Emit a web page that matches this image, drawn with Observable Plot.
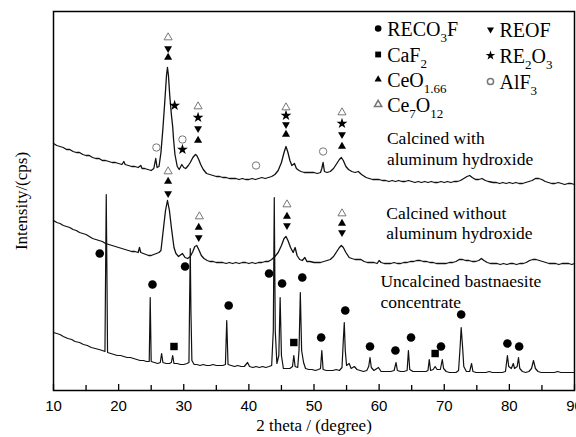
<!DOCTYPE html>
<html><head><meta charset="utf-8">
<script src="https://cdn.jsdelivr.net/npm/d3@7"></script>
<script src="https://cdn.jsdelivr.net/npm/@observablehq/plot@0.6"></script>
<style>body{margin:0;background:#fff} svg{display:block}</style>
</head><body><div id="chart"></div>
<script>
// x: 2 theta (degree), y: intensity (arbitrary, stacked traces)
const calcinedWithAl = [[10,247],[10.5,245],[11,244],[11.5,243],[12,241],[12.5,241],[13,239],[13.5,238],[14,238],[14.5,236],[15,235],[15.5,235],[16,233],[16.5,232],[17,232],[17.5,230],[18,230],[18.5,229],[19,228],[19.5,228],[20,227],[20.5,226],[20.8,229],[21,226],[21.5,225],[22,224],[22.5,224],[23,223],[23.4,225],[23.6,222],[24,222],[24.5,221],[25,220],[25.4,222],[25.7,232],[25.9,223],[26.2,224],[26.5,238],[26.8,262],[27.1,290],[27.35,315],[27.5,323],[27.65,315],[27.85,295],[28.1,276],[28.3,264],[28.45,250],[28.65,236],[29,224],[29.3,221],[29.7,226],[30,223],[30.3,222],[30.7,225],[31,228],[31.4,233],[31.8,236],[32,235],[32.3,231],[32.6,226],[33,221],[33.5,217],[34,216],[34.5,215],[35,214],[35.5,214],[36,213],[36.5,213],[37,212],[37.5,212],[38,212],[38.5,211],[39,212],[39.5,211],[40,211],[40.5,212],[41,211],[41.5,212],[42,213],[42.5,212],[43,213],[43.5,214],[44,216],[44.5,220],[45,228],[45.4,238],[45.7,244],[46,238],[46.3,230],[46.6,225],[47,227],[47.3,222],[47.7,220],[48,219],[48.5,218],[49,218],[49.5,218],[50,218],[50.5,217],[51,218],[51.2,222],[51.4,228],[51.6,219],[52,218],[52.5,219],[53,222],[53.5,227],[53.9,231],[54.2,233],[54.5,230],[54.9,224],[55.3,221],[55.8,219],[56.3,218],[56.8,219],[57.3,216],[58,213],[58.5,212],[59,211],[59.5,211],[60,211],[60.5,210],[61,210],[61.5,209],[62,210],[62.5,209],[63,210],[63.5,209],[64,209],[64.5,210],[65,209],[65.5,208],[66,209],[66.5,208],[67,209],[67.5,208],[68,209],[68.5,208],[69,208],[69.5,209],[70,208],[70.5,209],[71,208],[71.5,209],[72,209],[72.5,210],[73,212],[73.5,214],[73.9,215],[74.3,213],[74.8,211],[75.3,211],[75.8,212],[76.3,210],[76.8,209],[77.5,208],[78,208],[78.5,207],[79,208],[79.5,207],[80,208],[80.5,207],[81,208],[81.5,207],[82,207],[82.5,208],[83,209],[83.5,210],[84,212],[84.5,212],[85,211],[85.5,209],[86,208],[86.5,207],[87,207],[87.5,208],[88,207],[88.5,206],[89,207],[89.5,207],[90,206]];

const calcinedWithoutAl = [[10,170],[10.5,168],[11,167],[11.5,165],[12,164],[12.5,163],[13,161],[13.5,160],[14,158],[14.5,157],[15,156],[15.5,154],[16,152],[16.5,151],[17,150],[17.5,149],[18,147],[18.5,146],[19,145],[19.5,144],[20,143],[20.5,142],[21,141],[21.5,140],[22,139],[22.5,139],[23,138],[23.2,143],[23.4,138],[23.8,137],[24.2,136],[24.6,135],[25,135],[25.4,136],[25.8,137],[26.2,138],[26.5,140],[26.9,163],[27.2,180],[27.5,190],[27.8,180],[28.1,163],[28.5,143],[28.8,137],[29.2,134],[29.8,137],[30.2,133],[30.6,132],[31,134],[31.4,139],[31.7,144],[32,145],[32.3,141],[32.7,135],[33.1,132],[33.6,130],[34,129],[34.5,129],[35,128],[35.5,128],[36,128],[36.5,127],[37,128],[37.5,127],[38,128],[38.5,127],[39,128],[39.5,128],[40,127],[40.5,128],[41,127],[41.5,128],[42,128],[42.5,129],[43,129],[43.5,131],[44,134],[44.5,138],[45,145],[45.4,152],[45.7,154],[46,150],[46.4,143],[46.8,138],[47.1,143],[47.4,135],[47.8,131],[48.2,130],[48.6,133],[48.9,129],[49.4,129],[50,128],[50.5,128],[51,128],[51.5,129],[52,130],[52.5,131],[53,134],[53.5,139],[53.9,143],[54.2,145],[54.5,143],[54.9,138],[55.4,133],[55.8,132],[56.3,131],[56.8,131],[57.2,131],[57.7,129],[58.2,128],[58.7,128],[59.2,128],[59.7,127],[60,130],[60.3,128],[60.8,127],[61.3,127],[61.8,127],[62.3,128],[62.8,127],[63.3,127],[63.8,128],[64.3,128],[64.8,129],[65.3,129],[65.8,130],[66.3,130],[66.8,129],[67.3,129],[67.8,128],[68.3,128],[68.8,127],[69.3,127],[69.8,127],[70.3,127],[70.8,128],[71.3,128],[71.8,129],[72.3,131],[72.8,131],[73.3,130],[73.8,130],[74.3,129],[74.8,129],[75.3,130],[75.7,132],[76.1,130],[76.6,128],[77.1,127],[77.6,127],[78.1,127],[78.6,126],[79.1,127],[79.6,126],[80.1,127],[80.6,127],[81.1,126],[81.6,127],[82.1,127],[82.6,128],[83.1,130],[83.6,131],[84.1,131],[84.6,130],[85.1,129],[85.6,128],[86.1,127],[86.6,127],[87.1,127],[87.6,126],[88.1,127],[88.6,127],[89.1,127],[89.6,126],[90,127]];

const uncalcined = [[10,58],[10.5,57],[11,56],[11.5,54],[12.2,52],[12.8,51],[13.3,49],[14,48],[14.6,46],[15.2,45],[15.8,43],[16.4,42],[17,41],[17.5,40],[17.9,39],[18,120],[18.1,196],[18.2,120],[18.3,38],[18.8,37],[19.3,36],[19.8,35],[20.3,35],[20.8,34],[21.3,33],[21.8,33],[22.3,32],[22.8,31],[23.3,30],[23.8,30],[24.3,29],[24.7,29],[24.85,93],[25,29],[25.5,28],[26,27],[26.4,28],[26.6,37],[26.8,28],[27.3,27],[27.8,27],[28.1,28],[28.3,35],[28.5,27],[29,27],[29.5,26],[30,26],[30.5,27],[30.8,28],[30.9,90],[31,142],[31.1,80],[31.25,30],[31.6,26],[32,26],[32.5,25],[33,26],[33.5,25],[34,25],[34.5,26],[35,25],[35.5,25],[36,25],[36.4,26],[36.6,70],[36.8,26],[37.3,25],[37.8,24],[38.3,25],[38.8,24],[39.3,24],[39.8,28],[40.1,24],[40.6,23],[41.1,24],[41.6,23],[42.1,24],[42.6,23],[43.1,24],[43.5,25],[43.75,60],[43.9,193],[44.05,60],[44.3,27],[44.6,35],[44.8,93],[45,35],[45.3,22],[45.8,22],[46.3,22],[46.7,24],[46.9,35],[47.1,24],[47.5,23],[47.7,40],[47.9,98],[48.1,40],[48.4,28],[48.7,22],[49.2,21],[49.7,21],[50.2,20],[50.7,21],[51,22],[51.2,40],[51.4,21],[51.9,20],[52.4,20],[52.9,20],[53.4,21],[53.9,20],[54.3,23],[54.5,50],[54.65,68],[54.8,40],[55,25],[55.4,27],[55.7,22],[56.2,24],[56.6,21],[57.1,20],[57.6,19],[58.1,20],[58.4,24],[58.6,33],[58.8,23],[59.2,20],[59.9,23],[60.3,19],[60.8,19],[61.3,19],[61.8,19],[62.3,20],[62.6,28],[62.8,20],[63.3,19],[63.8,19],[64.3,20],[64.5,40],[64.7,21],[65.2,19],[65.7,19],[66.2,19],[66.7,19],[67.2,19],[67.5,20],[67.7,31],[67.9,20],[68.3,21],[68.6,24],[68.9,21],[69.4,21],[69.7,31],[69.9,22],[70.3,19],[70.8,18],[71.3,18],[71.8,18],[72.2,20],[72.45,45],[72.6,63],[72.8,45],[73,24],[73.4,19],[73.9,19],[74.2,27],[74.4,19],[74.9,18],[75.4,18],[75.9,18],[76.4,18],[76.9,19],[77.4,18],[77.9,18],[78.4,18],[78.9,18],[79.4,19],[79.7,35],[79.9,24],[80.3,22],[80.6,27],[80.8,22],[81.2,24],[81.4,33],[81.6,22],[82,19],[82.5,18],[83,19],[83.4,22],[83.7,30],[84,22],[84.4,19],[84.9,18],[85.4,18],[85.9,18],[86.4,18],[86.9,18],[87.4,19],[87.9,18],[88.4,18],[88.9,18],[89.4,18],[90,18]];

// phase markers [2theta, intensity]
const RECO3F = [[17.1,137],[25.2,106],[30.2,124],[36.9,85],[43.1,117],[45.1,107],[48.2,113],[51.1,53],[54.8,80],[58.6,44],[62.5,40],[64.9,53],[69.5,44],[72.6,76],[79.7,47],[81.5,44]];
const CaF2 = [[28.5,44],[46.9,48],[68.6,37]];
const CeO166 = [[27.6,333],[32.2,250],[45.7,256],[54.3,244],[27.6,209],[32.3,163],[45.85,174],[54.3,167]];
const Ce7O12 = [[27.6,353],[32.2,284],[45.7,283],[54.3,278],[27.6,219],[32.4,174],[45.85,186],[54.3,177]];
const REOF = [[27.6,342],[32.2,262],[45.7,266],[54.3,256],[27.6,197],[32.3,153],[45.85,165],[54.3,158]];
const RE2O3 = [[28.6,285],[29.8,241],[32.2,273],[45.7,275],[54.3,267]];
const AlF3 = [[25.8,243],[29.8,251],[41.1,225],[51.4,239]];

// legend
const legendNames = ["RECO{3}F", "CaF{2}", "CeO{1.66}", "Ce{7}O{12}", "REOF", "RE{2}O{3}", "AlF{3}"];
const legendX = [59.85, 59.85, 59.85, 59.85, 77.1, 77.1, 77.1];
const legendY = [362, 336, 311, 286, 361, 335, 309];

// trace labels
const traceLabels = ["Calcined with", "aluminum hydroxide", "Calcined without", "aluminum hydroxide", "Uncalcined bastnaesite", "concentrate"];
const traceLabelX = [61.2, 61.2, 61.1, 61.1, 60.2, 60.2];
const traceLabelY = [252, 231, 177, 157, 109, 88];

const majorTicks = [10, 20, 30, 40, 50, 60, 70, 80, 90];
const minorTicks = [15, 25, 35, 45, 55, 65, 75, 85];

const toXY = a => a.map(([x, y]) => ({x, y}));
const sq3 = Math.sqrt(3);
const triangleDown = {
  draw(context, size) {
    const y = Math.sqrt(size / (sq3 * 3));
    context.moveTo(0, y * 2);
    context.lineTo(-sq3 * y, -y);
    context.lineTo(sq3 * y, -y);
    context.closePath();
  }
};
const legendSymbols = ["circle", "square", "triangle", "triangle", triangleDown, "star", "circle"];
const legendFill = ["#000", "#000", "#000", "none", "#000", "#000", "none"];
const legendStroke = ["none", "none", "none", "#777", "none", "none", "#777"];
const legendR = [3.3, 3.3, 2.7, 2.7, 2.6, 3, 3.1];
const legendData = legendNames.map((name, i) => ({name, x: legendX[i], y: legendY[i], sym: legendSymbols[i], fill: legendFill[i], stroke: legendStroke[i], r: legendR[i]}));

const serif = "'Liberation Serif', 'Times New Roman', serif";

const chart = Plot.plot({
  width: 576,
  height: 437,
  marginLeft: 53,
  marginRight: 2,
  marginTop: 11,
  marginBottom: 47,
  style: {fontFamily: "'Liberation Sans', Arial, sans-serif", fontSize: "15px", color: "#000", background: "#fff"},
  x: {domain: [10, 90], ticks: majorTicks, tickSize: 0, tickPadding: 10, label: null},
  y: {domain: [0, 379], axis: null},
  marks: [
    Plot.line(toXY(uncalcined), {x: "x", y: "y", stroke: "#111", strokeWidth: 1.2}),
    Plot.line(toXY(calcinedWithoutAl), {x: "x", y: "y", stroke: "#111", strokeWidth: 1.3}),
    Plot.line(toXY(calcinedWithAl), {x: "x", y: "y", stroke: "#111", strokeWidth: 1.3}),
    Plot.ruleX(majorTicks, {x: d => d, y1: 0, y2: 6, stroke: "#000", strokeWidth: 1.3}),
    Plot.ruleX(minorTicks, {x: d => d, y1: 0, y2: 5, stroke: "#000", strokeWidth: 1.3}),
    Plot.frame({stroke: "#000", strokeWidth: 1.5}),
    Plot.dot(toXY(RECO3F), {x: "x", y: "y", symbol: "circle", fill: "#000", r: 4.3}),
    Plot.dot(toXY(CaF2), {x: "x", y: "y", symbol: "square", fill: "#000", r: 4.2}),
    Plot.dot(toXY(CeO166), {x: "x", y: "y", symbol: "triangle", fill: "#000", r: 3}),
    Plot.dot(toXY(Ce7O12), {x: "x", y: "y", symbol: "triangle", fill: "none", stroke: "#777", strokeWidth: 1, r: 3}),
    Plot.dot(toXY(REOF), {x: "x", y: "y", symbol: triangleDown, fill: "#000", r: 2.9}),
    Plot.dot(toXY(RE2O3), {x: "x", y: "y", symbol: "star", fill: "#000", r: 3.4}),
    Plot.dot(toXY(AlF3), {x: "x", y: "y", symbol: "circle", fill: "none", stroke: "#777", strokeWidth: 1, r: 3.7}),
    ...legendData.map(d => Plot.dot([d], {x: "x", y: "y", symbol: d.sym, fill: d.fill, stroke: d.stroke, r: d.r})),
    Plot.text(legendData, {x: "x", y: "y", text: "name", textAnchor: "start", lineAnchor: "middle", dx: 9, dy: 1.5, fontFamily: serif, fontSize: 20, fill: "#000"}),
    Plot.text(traceLabels.map((t, i) => ({t, x: traceLabelX[i], y: traceLabelY[i]})), {x: "x", y: "y", text: "t", textAnchor: "start", lineAnchor: "middle", fontFamily: serif, fontSize: 17.5, fill: "#000"}),
    Plot.text(["Intensity/(cps)"], {frameAnchor: "left", textAnchor: "middle", lineAnchor: "middle", rotate: -90, dx: -32, fontFamily: serif, fontSize: 17, fill: "#000"}),
    Plot.text(["2 theta / (degree)"], {frameAnchor: "bottom", textAnchor: "middle", lineAnchor: "middle", dy: 35, fontFamily: serif, fontSize: 17, fill: "#000"})
  ]
});

// subscripts in legend labels
chart.querySelectorAll("text").forEach(t => {
  const s = t.textContent;
  if (!s.includes("{")) return;
  const parts = s.split(/(\{[^}]*\})/).filter(p => p.length);
  while (t.firstChild) t.removeChild(t.firstChild);
  let inSub = false;
  parts.forEach(p => {
    const ts = document.createElementNS("http://www.w3.org/2000/svg", "tspan");
    if (p.startsWith("{")) {
      ts.textContent = p.slice(1, -1);
      ts.setAttribute("font-size", "13");
      ts.setAttribute("dy", inSub ? "0" : "6");
      inSub = true;
    } else {
      ts.textContent = p;
      if (inSub) ts.setAttribute("dy", "-6");
      inSub = false;
    }
    t.appendChild(ts);
  });
});

document.getElementById("chart").appendChild(chart);
</script>
</body></html>
